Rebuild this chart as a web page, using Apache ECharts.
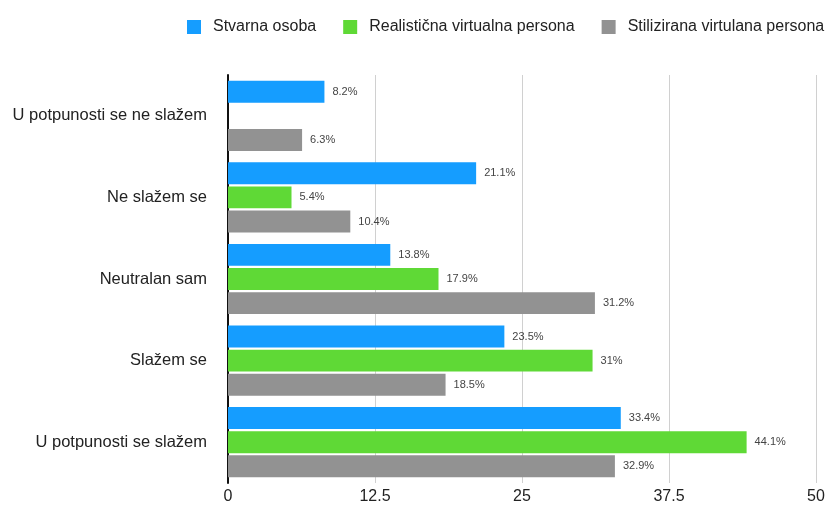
<!DOCTYPE html>
<html>
<head>
<meta charset="utf-8">
<script src="https://cdn.jsdelivr.net/npm/echarts@6/dist/echarts.min.js"></script>
<style>
  html, body { margin: 0; padding: 0; background: #fff; }
  #chart { width: 832px; height: 505px; }
</style>
</head>
<body>
<div id="chart"></div>
<script>
const categories = [
  "U potpunosti se ne slažem",
  "Ne slažem se",
  "Neutralan sam",
  "Slažem se",
  "U potpunosti se slažem",
];
const seriesNames = [
  "Stvarna osoba",
  "Realistična virtualna persona",
  "Stilizirana virtulana persona",
];
const stvarna = [8.2, 21.1, 13.8, 23.5, 33.4];
const realisticna = [null, 5.4, 17.9, 31, 44.1];
const stilizirana = [6.3, 10.4, 31.2, 18.5, 32.9];
const xTicks = [0, 12.5, 25, 37.5, 50];
const colors = ["#159dff", "#5fd936", "#929292"];

const font = "Helvetica, Arial, 'Liberation Sans', sans-serif";

function makeSeries(name, data, color) {
  return {
    name: name,
    type: "bar",
    data: data,
    barGap: "10%",
    barCategoryGap: "14%",
    itemStyle: { color: color },
    label: {
      show: true,
      position: "right",
      distance: 8,
      color: "#444",
      fontSize: 11,
      fontFamily: font,
      formatter: function (p) {
        return p.value ? p.value + "%" : "";
      },
    },
  };
}

const chart = echarts.init(document.getElementById("chart"));
chart.setOption({
  animation: false,
  backgroundColor: "#fff",
  color: colors,
  legend: {
    top: 14,
    left: 182,
    itemWidth: 14,
    itemHeight: 14,
    itemGap: 27,
    icon: "rect",
    textStyle: {
      color: "#222",
      fontSize: 16,
      fontFamily: font,
      padding: [0, 0, 0, 7],
    },
    data: seriesNames,
  },
  grid: {
    left: 228,
    right: 16,
    top: 75,
    bottom: 20,
    containLabel: false,
  },
  xAxis: {
    type: "value",
    min: xTicks[0],
    max: xTicks[xTicks.length - 1],
    interval: 12.5,
    axisLine: { show: false },
    axisTick: { show: false },
    splitLine: { show: true, lineStyle: { color: "#d0d0d0", width: 1 } },
    axisLabel: {
      color: "#222",
      fontSize: 16,
      fontFamily: font,
      margin: 6,
    },
  },
  yAxis: {
    type: "category",
    inverse: true,
    data: categories,
    axisLine: { show: true, lineStyle: { color: "#111", width: 2 } },
    axisTick: { show: false },
    axisLabel: {
      color: "#222",
      fontSize: 16.5,
      fontFamily: font,
      margin: 21,
    },
  },
  series: [
    makeSeries(seriesNames[0], stvarna, colors[0]),
    makeSeries(seriesNames[1], realisticna, colors[1]),
    makeSeries(seriesNames[2], stilizirana, colors[2]),
  ],
});
</script>
</body>
</html>
